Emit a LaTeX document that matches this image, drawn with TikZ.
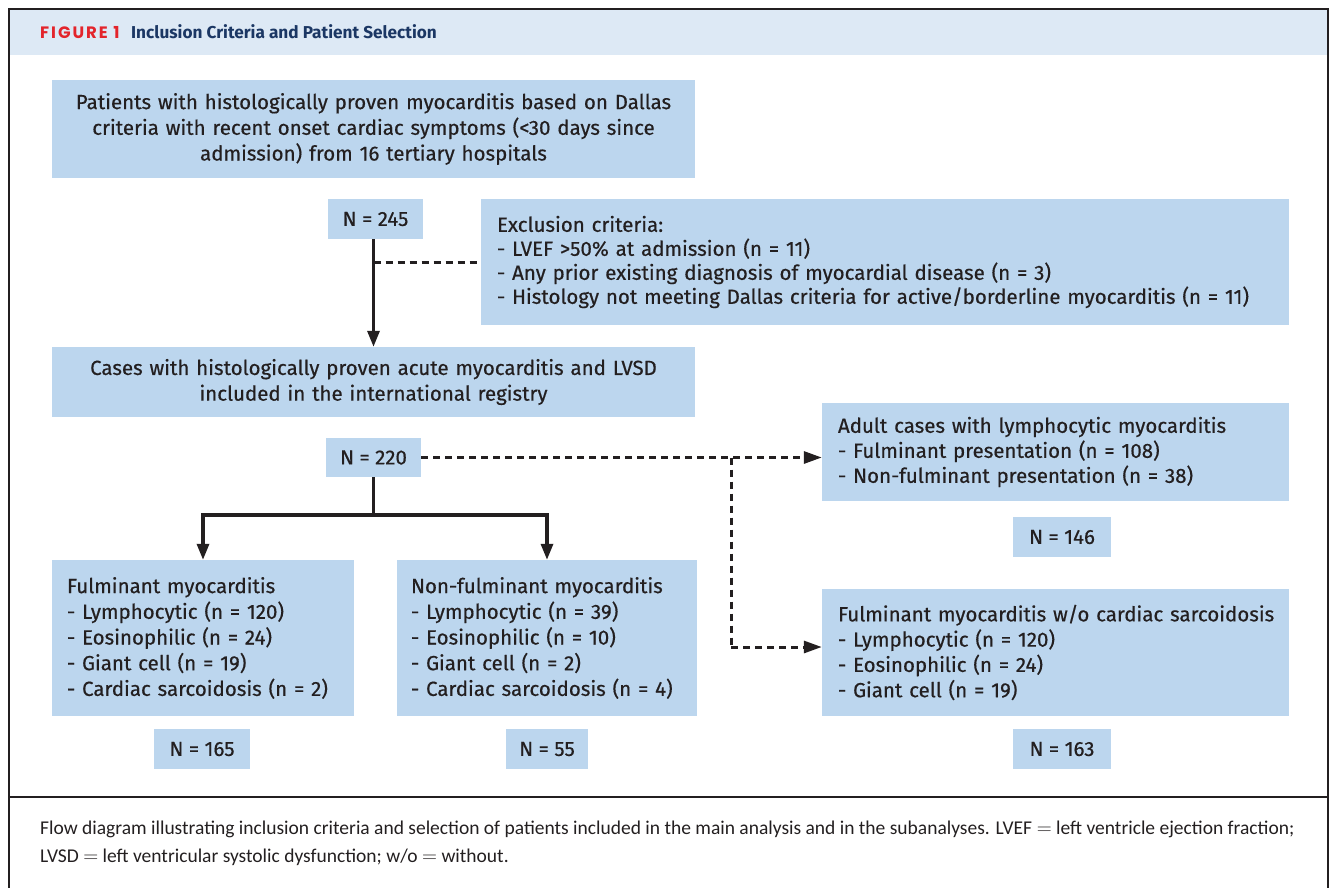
\documentclass[tikz,border=0pt]{standalone}
\usepackage{fontspec}
\setmainfont{Fira Sans}[FakeBold=0.5]
\newfontfamily\plainfira{Fira Sans}
\newfontfamily\capfont{Carlito}
\newfontfamily\figfont{Poppins}
\usetikzlibrary{arrows.meta,calc}
\definecolor{boxblue}{HTML}{BCD6EE}
\definecolor{headblue}{HTML}{DDE9F5}
\definecolor{ink}{HTML}{231F20}
\definecolor{figred}{HTML}{E3242B}
\definecolor{navy}{HTML}{1B3764}
\tikzset{
  box/.style={fill=boxblue, text=ink, inner xsep=15pt, inner ysep=2pt,
    font=\fontsize{20.5}{25.7}\selectfont},
  cbox/.style={box, align=center},
  lbox/.style={box, align=left},
  nbox/.style={fill=boxblue, text=ink, inner sep=0pt, font=\fontsize{20.5}{22}\selectfont},
  solidarrow/.style={draw=ink, line width=3.2pt, -{Triangle[length=16pt,width=12pt]}},
  solidline/.style={draw=ink, line width=3.2pt},
  dashline/.style={draw=ink, line width=3pt, dash pattern=on 7pt off 5pt},
  dasharrow/.style={dashline, -{Triangle[length=18pt,width=12pt]}},
}
\begin{document}
\begin{tikzpicture}[x=1pt,y=-1pt]
\useasboundingbox (0,0) rectangle (1336,888);
% header and frame
\fill[headblue] (9,9) rectangle (1328,55);
\draw[ink, line width=2pt] (9,888) -- (9,9) -- (1328,9) -- (1328,888);
\draw[ink, line width=2pt] (9,797) -- (1328,797);
\node[anchor=base west, inner sep=0pt, text=figred, font=\figfont\bfseries\fontsize{16.5}{16}\selectfont\addfontfeatures{LetterSpace=12}] (figlabel) at (40,39) {FIGURE 1};
\node[anchor=base west, inner sep=0pt, text=navy, font=\plainfira\bfseries\fontsize{17.2}{18}\selectfont] (figtitle) at (131,39) {Inclusion Criteria and Patient Selection};
% boxes
\node[cbox, text width=613pt, minimum height=98pt] (top) at (373.5,129) {Patients with histologically proven myocarditis based on Dallas\\criteria with recent onset cardiac symptoms (<30 days since\\admission) from 16 tertiary hospitals};
\node[nbox, minimum width=95pt, minimum height=40pt] (n245) at (375.5,219) {N = 245};
\node[lbox, text width=776pt, inner xsep=16pt, minimum height=126pt, font=\fontsize{20.5}{24}\selectfont] (excl) at (885,262) {Exclusion criteria:\\- LVEF >50\% at admission (n = 11)\\- Any prior existing diagnosis of myocardial disease (n = 3)\\- Histology not meeting Dallas criteria for active/borderline myocarditis (n = 11)};
\node[cbox, text width=613pt, minimum height=70pt] (mid) at (373.5,382) {Cases with histologically proven acute myocarditis and LVSD\\included in the international registry};
\node[nbox, minimum width=95pt, minimum height=39pt] (n220) at (373.5,457.5) {N = 220};
\node[lbox, text width=272pt, minimum height=156pt] (ful) at (203,638) {Fulminant myocarditis\\- Lymphocytic (n = 120)\\- Eosinophilic (n = 24)\\- Giant cell (n = 19)\\- Cardiac sarcoidosis (n = 2)};
\node[lbox, text width=272pt, inner xsep=14pt, minimum height=156pt] (nonful) at (547,638) {Non-fulminant myocarditis\\- Lymphocytic (n = 39)\\- Eosinophilic (n = 10)\\- Giant cell (n = 2)\\- Cardiac sarcoidosis (n = 4)};
\node[nbox, minimum width=96pt, minimum height=40pt] (n165) at (202,749) {N = 165};
\node[nbox, minimum width=82pt, minimum height=40pt] (n55) at (547,749) {N = 55};
\node[lbox, text width=435pt, inner xsep=16pt, minimum height=98pt, font=\fontsize{20.5}{25}\selectfont] (adult) at (1055.5,452) {Adult cases with lymphocytic myocarditis\\- Fulminant presentation (n = 108)\\- Non-fulminant presentation (n = 38)};
\node[nbox, minimum width=98pt, minimum height=40pt] (n146) at (1062,537) {N = 146};
\node[lbox, text width=435pt, inner xsep=16pt, minimum height=127pt, font=\fontsize{20.5}{25.3}\selectfont] (fulwo) at (1055.5,652.5) {\mbox{Fulminant myocarditis w/o cardiac sarcoidosis}\\- Lymphocytic (n = 120)\\- Eosinophilic (n = 24)\\- Giant cell (n = 19)};
\node[nbox, minimum width=98pt, minimum height=40pt] (n163) at (1062,749) {N = 163};
% connectors
\draw[solidarrow] (n245.south -| mid.north) -- (mid.north);
\draw[dashline] (excl.west -| mid.north) -- (excl.west);
\coordinate (split) at (373.5,515);
\draw[solidline] (n220.south) -- (split);
\draw[solidarrow] (split) -| (ful.north);
\draw[solidarrow] (split) -| (nonful.north);
\draw[dasharrow] (n220.east) -- (n220.east -| adult.west);
\coordinate (branch) at (731,457.5);
\coordinate (bend) at (731,647);
\draw[dashline] (branch) -- (bend);
\draw[dasharrow] (bend) -- (bend -| fulwo.west);
% caption
\node[anchor=base west, inner sep=0pt, text=ink, align=left, font=\capfont\fontsize{19.5}{28}\selectfont] (caption) at (40,862) {Flow diagram illustrating inclusion criteria and selection of patients included in the main analysis and in the subanalyses. LVEF $=$ left ventricle ejection fraction;\\LVSD $=$ left ventricular systolic dysfunction; w/o $=$ without.};
\end{tikzpicture}
\end{document}
